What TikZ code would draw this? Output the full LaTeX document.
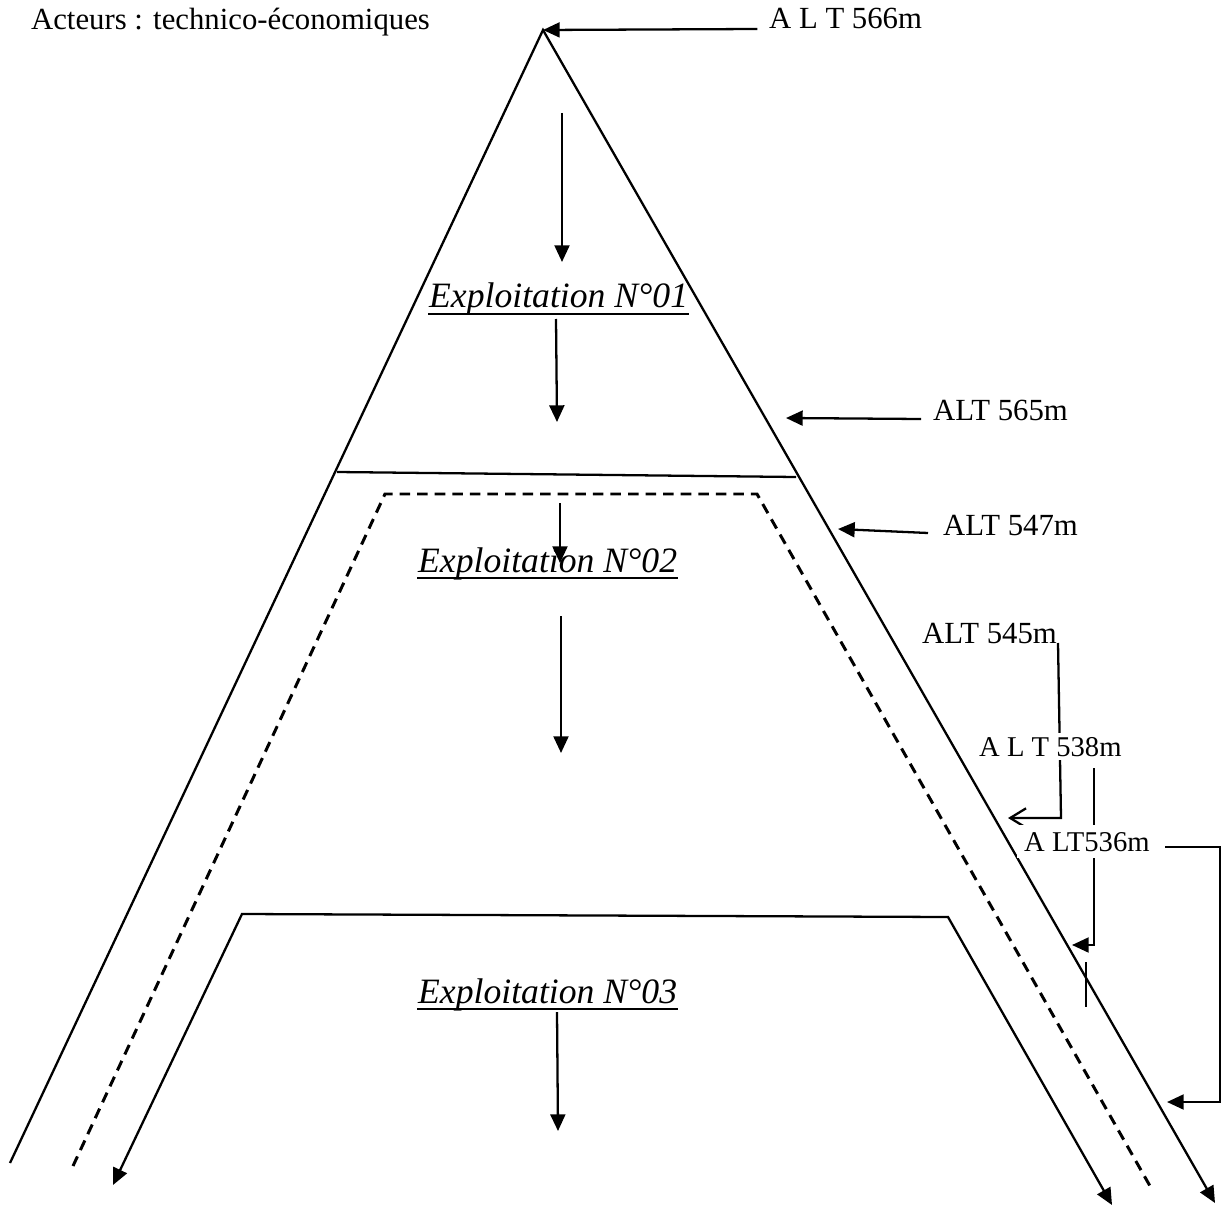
\documentclass[tikz,border=0pt]{standalone}
\usepackage{fontspec}
\setmainfont{Liberation Serif}
\usetikzlibrary{arrows.meta}
\begin{document}
\begin{tikzpicture}[x=0.02cm,y=-0.02cm,
  line width=1.3pt,
  tip/.style={-{Triangle[length=9.5pt,width=8.5pt]}},
  lbl/.style={font=\fontsize{17.5}{20}\selectfont, inner sep=0pt, anchor=base west},
  lbls/.style={font=\fontsize{16.3}{19}\selectfont, anchor=base west, fill=white},
  expl/.style={font=\fontsize{20.3}{24}\selectfont\itshape, inner sep=0pt, anchor=base west},
  uline/.style={line width=1.1pt},
  dashline/.style={line width=1.7pt, dash pattern=on 6pt off 4pt}]
\useasboundingbox (0,0) rectangle (1223,1209);
% main triangle
\coordinate (apex) at (543,30);
\coordinate (Lbot) at (10,1163);
\coordinate (Rbot) at (1215,1203);
\draw[tip] (Lbot) -- (apex) -- (Rbot);
% first horizontal line
\coordinate (h1a) at (337,472);
\coordinate (h1b) at (796,477);
\draw (h1a) -- (h1b);
% dashed trapezoid
\coordinate (d1) at (73,1166);
\coordinate (d2) at (385,494);
\coordinate (d3) at (757,494);
\coordinate (d4) at (1150,1186);
\draw[dashline] (d1) -- (d2) -- (d3) -- (d4);
% inner solid trapezoid
\coordinate (s1) at (113,1185);
\coordinate (s2) at (242,914);
\coordinate (s3) at (948,917);
\coordinate (s4) at (1112,1205);
\draw[{Triangle[length=9.5pt,width=8.5pt]}-{Triangle[length=9.5pt,width=8.5pt]}] (s1) -- (s2) -- (s3) -- (s4);
% texts
\node[lbl] (act) at (30,30) {Acteurs : technico-économiques};
\node[lbl] (l566) at (768,29) {A L T 566m};
\node[lbl] (l565) at (932,420) {ALT 565m};
\node[lbl] (l547) at (942,535) {ALT 547m};
\node[lbl] (l545) at (921,643) {ALT 545m};
\node[expl] (e1) at (428,308) {Exploitation N°01};
\node[expl] (e2) at (417,572) {Exploitation N°02};
\node[expl] (e3) at (417,1003) {Exploitation N°03};
\draw[uline] ([yshift=-3.4pt]e1.base west) -- ([yshift=-3.4pt]e1.base east);
\draw[uline] ([yshift=-3.4pt]e2.base west) -- ([yshift=-3.4pt]e2.base east);
\draw[uline] ([yshift=-3.4pt]e3.base west) -- ([yshift=-3.4pt]e3.base east);
% altitude arrows
\coordinate (t565) at (786,418);
\coordinate (t547) at (838,529);
\draw[tip] ([xshift=-6pt]l566.base west) -- (apex);
\draw[tip] (921,419) -- (t565);
\draw[tip] (928,533) -- (t547);
% vertical arrows
\coordinate (v1a) at (562,113); \coordinate (v1b) at (562,262);
\coordinate (v2a) at (556,319); \coordinate (v2b) at (557,422);
\coordinate (v3a) at (560,503); \coordinate (v3b) at (560,563);
\coordinate (v4a) at (561,616); \coordinate (v4b) at (561,753);
\coordinate (v5a) at (557,1012); \coordinate (v5b) at (558,1131);
\draw[tip] (v1a) -- (v1b);
\draw[tip] (v2a) -- (v2b);
\draw[tip] (v3a) -- (v3b);
\draw[tip] (v4a) -- (v4b);
\draw[tip] (v5a) -- (v5b);
% bracket from 545m
\coordinate (b1a) at (1058,643);
\coordinate (b1b) at (1061,818);
\coordinate (b1c) at (1008,818);
\draw[-{Straight Barb[length=9pt,width=11pt]}] (b1a) -- (b1b) -- (b1c);
% bracket 538m / 536m
\coordinate (b2a) at (1094,768);
\coordinate (b2b) at (1094,945);
\coordinate (b2c) at (1072,945);
\draw[tip] (b2a) -- (b2b) -- (b2c);
\coordinate (k1) at (1086,962);
\coordinate (k2) at (1086,1007);
\draw (k1) -- (k2);
% bracket right of 536m
\coordinate (b3a) at (1165,847);
\coordinate (b3b) at (1220,847);
\coordinate (b3c) at (1220,1102);
\coordinate (b3d) at (1167,1102);
\draw[tip] (b3a) -- (b3b) -- (b3c) -- (b3d);
% labels over brackets
\node[lbls, inner sep=2pt] (l538) at (974.5,756) {A L T 538m};
\node[lbls, inner sep=4pt] (l536) at (1016,851) {A LT536m};
\end{tikzpicture}
\end{document}
